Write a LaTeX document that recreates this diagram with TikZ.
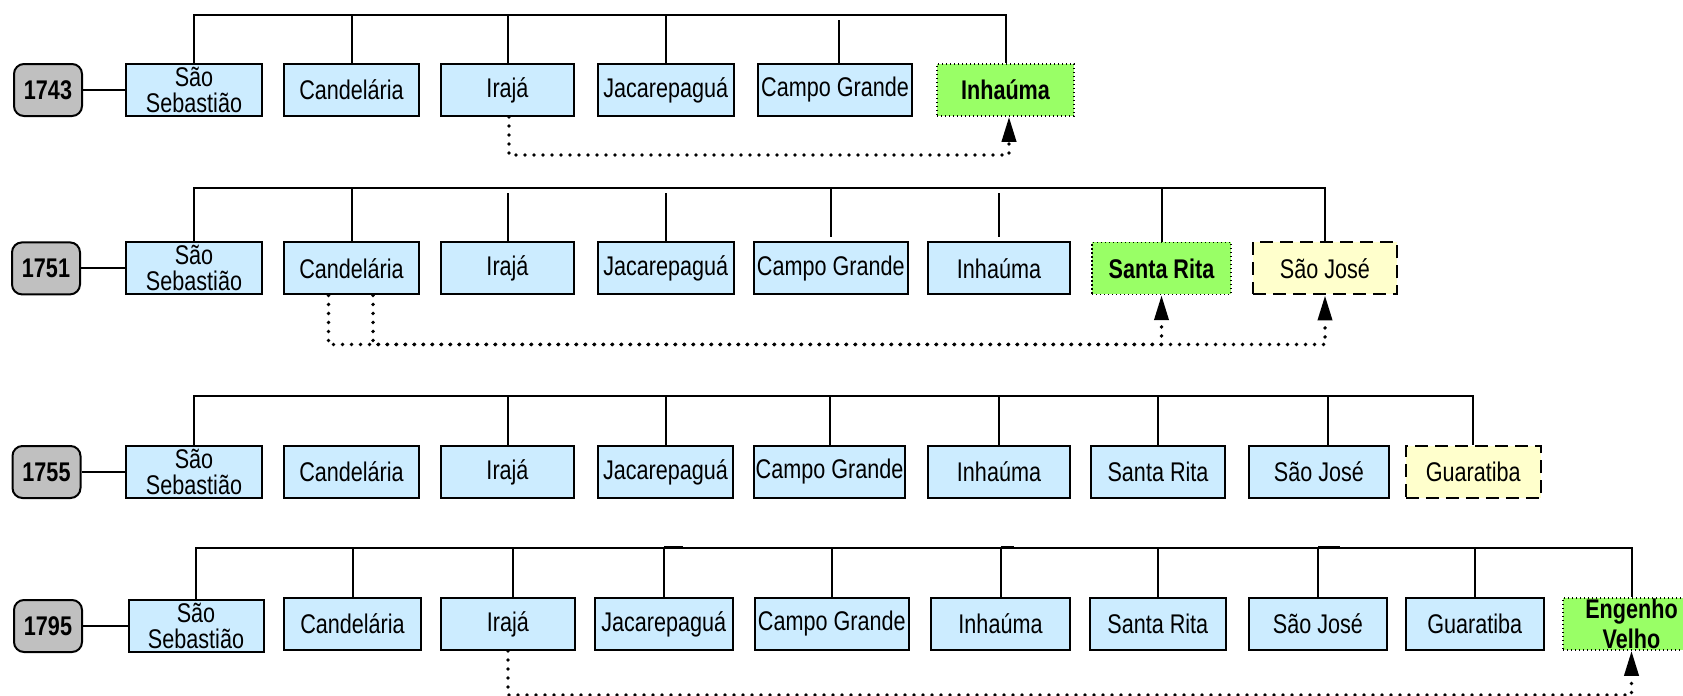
\documentclass[tikz,border=0pt]{standalone}
\usepackage{fontspec}
\setmainfont{Liberation Sans}[FakeStretch=0.8]
\usetikzlibrary{arrows.meta}
\definecolor{boxblue}{RGB}{204,236,255}
\definecolor{newgreen}{RGB}{153,255,102}
\definecolor{newyellow}{RGB}{255,255,204}
\definecolor{yeargray}{RGB}{192,192,192}
\newcommand\bxf{\fontsize{13.5pt}{13pt}\selectfont}
\newcommand\evf{\fontsize{13.5pt}{15pt}\selectfont\bfseries}
\begin{document}
\begin{tikzpicture}[x=0.5pt,y=-0.5pt,
  bw/.style={minimum width=#1*0.5pt},
  box/.style={draw, line width=1pt, fill=boxblue, minimum height=26pt, inner sep=0pt, font=\bxf, align=center},
  newbox/.style={box, fill=newgreen, line width=0.8pt, dash pattern=on 0.6pt off 1.4pt, font=\bxf\bfseries},
  dashbox/.style={box, fill=newyellow, dash pattern=on 6.5pt off 3.5pt},
  year/.style={draw, line width=1pt, fill=yeargray, rounded corners=5pt, minimum width=34pt, minimum height=26pt, inner sep=0pt, font=\bxf\bfseries},
  conn/.style={line width=1pt},
  dotline/.style={line width=1.9pt, dash pattern=on 0pt off 4.5pt, line cap=round, -{Triangle[length=12.5pt,width=7pt]}}
]
\useasboundingbox (0,0) rectangle (1683,696);

% ---------- row 1743
\coordinate (bus1) at (0,15);
\node[year] (y1) at (48,90) {1743};
\node[box,bw=136] (ss1) at (194,90) {São\\Sebastião};
\node[box,bw=135] (ca1) at (351.5,90) {Candelária};
\node[box,bw=133] (ir1) at (507.5,90) {Irajá};
\node[box,bw=136.5] (ja1) at (665.75,90) {Jacarepaguá};
\node[box,bw=154] (cg1) at (835,90) {Campo Grande};
\node[newbox,bw=137] (in1) at (1005.5,90) {Inhaúma};
\draw[conn] (y1.east) -- (ss1.west |- y1.east);
\draw[conn] (ss1.north) -- (ss1.north |- bus1) -- (in1.north |- bus1) -- (in1.north);
\foreach \n in {ca1,ir1,ja1} \draw[conn] (\n.north) -- (\n.north |- bus1);
\draw[conn,shorten >=2.5pt] ([xshift=1.8pt]cg1.north) -- ([xshift=1.8pt]cg1.north |- bus1);
\draw[dotline] ([xshift=0.75pt]ir1.south) -- ++(0,38) -| ([xshift=1.75pt]in1.south);

% ---------- row 1751
\coordinate (bus2) at (0,188);
\node[year] (y2) at (46,268.4) {1751};
\node[box,bw=136] (ss2) at (194,268.4) {São\\Sebastião};
\node[box,bw=135] (ca2) at (351.5,268.4) {Candelária};
\node[box,bw=133] (ir2) at (507.5,268.4) {Irajá};
\node[box,bw=136.5] (ja2) at (665.75,268.4) {Jacarepaguá};
\node[box,bw=154.4] (cg2) at (830.8,268.4) {Campo Grande};
\node[box,bw=142] (in2) at (999,268.4) {Inhaúma};
\node[newbox,bw=139] (sr2) at (1161.5,268.4) {Santa Rita};
\node[dashbox,bw=144] (sj2) at (1325,268.4) {São José};
\draw[conn] (y2.east) -- (ss2.west |- y2.east);
\draw[conn] (ss2.north) -- (ss2.north |- bus2) -- (sj2.north |- bus2) -- (sj2.north);
\foreach \n in {ca2,sr2} \draw[conn] (\n.north) -- (\n.north |- bus2);
\foreach \n in {ir2,ja2} \draw[conn,shorten >=2.4pt] (\n.north) -- (\n.north |- bus2);
\draw[conn,shorten <=2.4pt] (cg2.north) -- (cg2.north |- bus2);
\draw[conn,shorten <=2.4pt,shorten >=2.4pt] (in2.north) -- (in2.north |- bus2);
\draw[dotline] ([xshift=-11.5pt]ca2.south) -- ++(0,49) -| (sj2.south);
\draw[dotline] ([xshift=10.75pt]ca2.south) -- ++(0,49) -| (sr2.south);

% ---------- row 1755
\coordinate (bus3) at (0,395.7);
\node[year] (y3) at (46.5,472) {1755};
\node[box,bw=136] (ss3) at (194,472) {São\\Sebastião};
\node[box,bw=135] (ca3) at (351.5,472) {Candelária};
\node[box,bw=133] (ir3) at (507.5,472) {Irajá};
\node[box,bw=135] (ja3) at (665.5,472) {Jacarepaguá};
\node[box,bw=151] (cg3) at (829.5,472) {Campo Grande};
\node[box,bw=142] (in3) at (999,472) {Inhaúma};
\node[box,bw=134] (sr3) at (1158,472) {Santa Rita};
\node[box,bw=140] (sj3) at (1319,472) {São José};
\node[dashbox,bw=135] (gu3) at (1473.3,472) {Guaratiba};
\draw[conn] (y3.east) -- (ss3.west |- y3.east);
\draw[conn] (ss3.north) -- (ss3.north |- bus3) -- (gu3.north |- bus3) -- (gu3.north);
\foreach \n in {ir3,ja3,cg3,in3,sr3} \draw[conn] (\n.north) -- (\n.north |- bus3);
\draw[conn] ([xshift=4.25pt]sj3.north) -- ([xshift=4.25pt]sj3.north |- bus3);

% ---------- row 1795
\coordinate (bus4) at (0,547.7);
\node[year] (y4) at (48,626) {1795};
\node[box,bw=135] (ss4) at (196,626) {São\\Sebastião};
\node[box,bw=137] (ca4) at (352.5,624) {Candelária};
\node[box,bw=134] (ir4) at (508,624) {Irajá};
\node[box,bw=138.4] (ja4) at (663.8,624) {Jacarepaguá};
\node[box,bw=154.4] (cg4) at (831.8,624) {Campo Grande};
\node[box,bw=139] (in4) at (1000.5,624) {Inhaúma};
\node[box,bw=136.4] (sr4) at (1157.8,624) {Santa Rita};
\node[box,bw=138] (sj4) at (1318,624) {São José};
\node[box,bw=138.4] (gu4) at (1474.8,624) {Guaratiba};
\node[newbox,bw=137,font=\evf] (ev4) at (1631.5,624) {Engenho\\Velho};
\draw[conn] (y4.east) -- (ss4.west |- y4.east);
\draw[conn] (ss4.north) -- (ss4.north |- bus4) -- (ev4.north |- bus4) -- (ev4.north);
\foreach \n in {ca4,ja4,cg4,in4,sr4,sj4,gu4} \draw[conn] (\n.north) -- (\n.north |- bus4);
\draw[conn] ([xshift=2.5pt]ir4.north) -- ([xshift=2.5pt]ir4.north |- bus4);
\foreach \n/\l in {ja4/19,in4/13,sj4/22} \draw[conn] ([yshift=0.6pt]\n.north |- bus4) -- ++(\l,0);
\draw[dotline] (ir4.south) -- ++(0,44) -| (ev4.south);
\end{tikzpicture}
\end{document}
